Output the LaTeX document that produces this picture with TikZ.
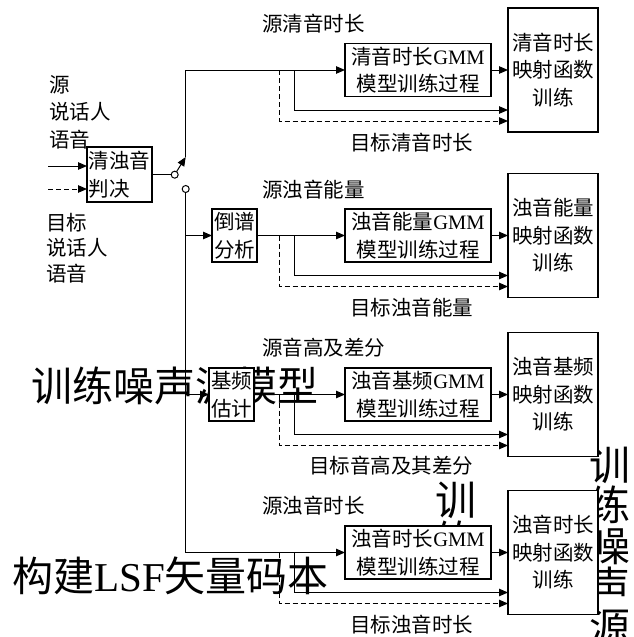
\documentclass[tikz,border=0pt]{standalone}
\usepackage{fontspec}
\setmainfont{Liberation Serif}
\newfontfamily\cjk{Noto Sans CJK SC}
\usetikzlibrary{arrows.meta,calc}
\begin{document}
\begin{tikzpicture}[x=1pt,y=-1pt,
  every node/.style={inner sep=0pt, outer sep=0pt},
  txt/.style={font=\cjk\fontsize{20.5}{27.5}\selectfont},
  big/.style={font=\cjk\fontsize{41}{40.5}\selectfont},
  box/.style={draw, fill=white, line width=1.1pt, txt, align=center},
  gmm/.style={box, minimum width=146pt, minimum height=53pt},
  mapbox/.style={box, minimum width=90pt, minimum height=124pt},
  ln/.style={line width=1pt},
  arr/.style={ln, -{Triangle[length=9pt,width=7.5pt]}},
  dsh/.style={ln, dash pattern=on 5pt off 3pt},
  darr/.style={dsh, -{Triangle[length=9pt,width=7.5pt]}},
  port/.style={circle, draw, fill=white, line width=1pt, minimum size=7pt},
]
\useasboundingbox (0,0) rectangle (633,637);

% large overlapping texts
\node[big] (bt1) at (175,386) {训练噪声源模型};
\node[big] (bt2) at (170.5,576) {构建{\rmfamily LSF}矢量码本};
\node[big, align=center] (bt3) at (610,546) {训\\练\\噪\\声\\源};
\node[big, align=center] (bt4) at (456,520.5) {训\\练};

% boxes
\node[box, minimum width=65pt, minimum height=55pt, align=left] (dec) at (119.5,174.5) {清浊音\\判决};
\node[box, minimum width=45pt, minimum height=53pt] (cep) at (234.5,235.5) {倒谱\\分析};
\node[box, minimum width=45pt, minimum height=53pt] (f0) at (231.5,394.5) {基频\\估计};

\node[gmm] (g1) at (418,70) {清音时长{\rmfamily GMM}\\模型训练过程};
\node[gmm] (g2) at (418,235.5) {浊音能量{\rmfamily GMM}\\模型训练过程};
\node[gmm] (g3) at (418,394.5) {浊音基频{\rmfamily GMM}\\模型训练过程};
\node[gmm] (g4) at (418,552.5) {浊音时长{\rmfamily GMM}\\模型训练过程};

\node[mapbox] (m1) at (553,70) {清音时长\\映射函数\\训练};
\node[mapbox] (m2) at (553,235.5) {浊音能量\\映射函数\\训练};
\node[mapbox] (m3) at (553,394.5) {浊音基频\\映射函数\\训练};
\node[mapbox] (m4) at (553,552.5) {浊音时长\\映射函数\\训练};

% switch
\node[port] (c1) at (174.7,174.7) {};
\node[port] (c2) at (185.7,189) {};
\coordinate (sw) at (185.7,157);

% inputs
\node[txt, anchor=west, align=left] (src) at (49,112) {源\\说话人\\语音};
\node[txt, anchor=west, align=left, font=\cjk\fontsize{20.5}{25.5}\selectfont] (tgt) at (46,248) {目标\\说话人\\语音};
\coordinate (in1) at (48,166);
\coordinate (in2) at (48,189);
\draw[arr] (in1) -- (dec.west |- in1);
\draw[darr] (in2) -- (dec.west |- in2);

\draw[ln] (dec.east |- c1) -- (c1.west);
\draw[arr] (c1) -- (sw);
\draw[arr] (sw) |- (g1.west);
\draw[arr] (c2.south) |- (g4.west);
\draw[arr] (c2.south |- cep.west) -- (cep.west);
\draw[arr] (c2.south |- f0.west) -- (f0.west);
\draw[arr] (cep.east) -- (g2.west);
\draw[arr] (f0.east) -- (g3.west);

% per-row branches
\foreach \i/\r in {1/70,2/235.5,3/394.5,4/552.5}{
  \coordinate (js\i) at (294.5,\r);
  \coordinate (jd\i) at (279.5,\r);
  \draw[arr] (g\i.east) -- (m\i.west |- g\i.east);
  \draw[arr] (js\i) |- ($(m\i.south west)+(0,-22)$);
  \draw[darr] (jd\i) |- ($(m\i.south west)+(0,-11)$);
}

% labels
\node[txt, anchor=west] (l1s) at (262,24) {源清音时长};
\node[txt, anchor=west] (l2s) at (262,189.5) {源浊音能量};
\node[txt, anchor=west] (l3s) at (262,347.5) {源音高及差分};
\node[txt, anchor=west] (l4s) at (262,505.5) {源浊音时长};
\node[txt, anchor=east] (l1t) at (473,143) {目标清音时长};
\node[txt, anchor=east] (l2t) at (473,307.5) {目标浊音能量};
\node[txt, anchor=east] (l3t) at (473,465.5) {目标音高及其差分};
\node[txt, anchor=east] (l4t) at (473,624.5) {目标浊音时长};
\end{tikzpicture}
\end{document}
